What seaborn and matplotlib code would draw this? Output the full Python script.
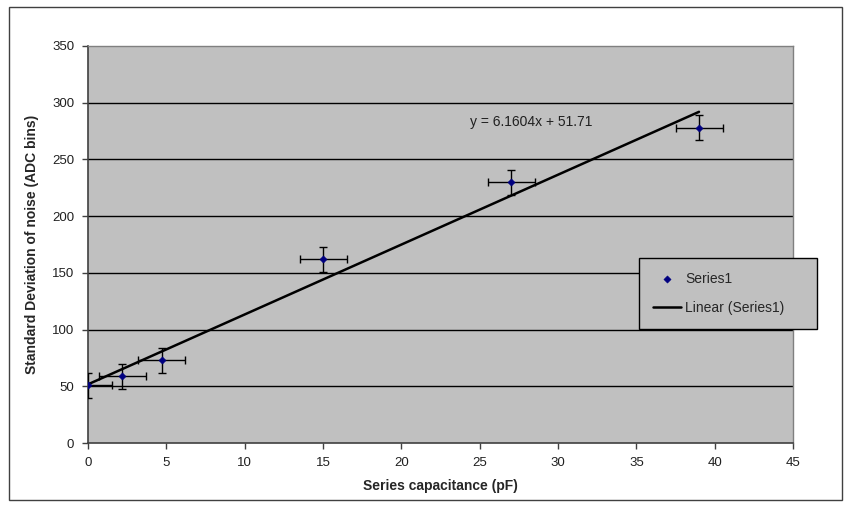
import numpy as np
import pandas as pd
import seaborn as sns
import matplotlib.pyplot as plt
from matplotlib.patches import Rectangle

# data
capacitance = [0.0, 2.2, 4.7, 15.0, 27.0, 39.0]
noise_std = [51, 59, 73, 162, 230, 278]
cap_err = [1.5, 1.5, 1.5, 1.5, 1.5, 1.5]
noise_err = [11, 11, 11, 11, 11, 11]
slope = 6.1604
intercept = 51.71
x_ticks = [0, 5, 10, 15, 20, 25, 30, 35, 40, 45]
y_ticks = [0, 50, 100, 150, 200, 250, 300, 350]

df = pd.DataFrame({"cap": capacitance, "noise": noise_std})
trend_x = np.array([min(capacitance), max(capacitance)])
trend = pd.DataFrame({"cap": trend_x, "noise": slope * trend_x + intercept})

sns.set_style("white", {"axes.facecolor": "#C0C0C0"})
plt.rcParams["font.family"] = ["Liberation Sans", "DejaVu Sans"]

fig = plt.figure(figsize=(8.5, 5.07), dpi=100)
ax = fig.add_axes([88/850, 1-443/507, (793-88)/850, (443-46)/507])

# horizontal gridlines like excel
for yv in y_ticks[1:-1]:
    ax.axhline(yv, color="black", lw=1, zorder=1)

ax.errorbar(capacitance, noise_std, xerr=cap_err, yerr=noise_err, fmt="none",
            ecolor="black", elinewidth=1, capsize=3, capthick=1, zorder=3)

sns.lineplot(data=trend, x="cap", y="noise", color="black", lw=1.8,
             ax=ax, label="Linear (Series1)", zorder=4)
sns.scatterplot(data=df, x="cap", y="noise", marker="D", s=14, color="#000080",
                edgecolor="#000080", ax=ax, label="Series1", zorder=5)

ax.set_xlim(0, 45)
ax.set_ylim(0, 350)
ax.set_xticks(x_ticks)
ax.set_yticks(y_ticks)
ax.tick_params(axis="both", direction="out", length=4, width=1, color="#404040",
               labelsize=9.5, labelcolor="#202020", pad=6, bottom=True, left=True)

for side in ["left", "bottom"]:
    ax.spines[side].set_color("#404040")
    ax.spines[side].set_linewidth(1.2)
for side in ["top", "right"]:
    ax.spines[side].set_color("#808080")
    ax.spines[side].set_linewidth(1)

ax.set_xlabel("Series capacitance (pF)", fontsize=10, fontweight="bold", labelpad=7)
ax.set_ylabel("Standard Deviation of noise (ADC bins)", fontsize=10,
              fontweight="bold", labelpad=9)

ax.text(24.4, 283, "y = 6.1604x + 51.71", fontsize=10, color="#202020", va="center")

handles, labels = ax.get_legend_handles_labels()
order = [labels.index("Series1"), labels.index("Linear (Series1)")]
leg = ax.legend([handles[i] for i in order], [labels[i] for i in order],
                loc="upper left", mode="expand",
                bbox_to_anchor=(639/850, 1-328/507, 178/850, 70/507),
                bbox_transform=fig.transFigure, fancybox=False, framealpha=1,
                edgecolor="black", fontsize=10, borderpad=1.0, labelspacing=1.1,
                handlelength=2.0, handletextpad=0.3, borderaxespad=0)
leg.get_frame().set_linewidth(1)
leg.set_zorder(10)

# outer chart border
fig.patches.append(Rectangle((9/850, 7/507), (842-9)/850, (500-7)/507,
                             transform=fig.transFigure, fill=False,
                             edgecolor="#404040", lw=1))

fig.savefig("out.png", dpi=100)
